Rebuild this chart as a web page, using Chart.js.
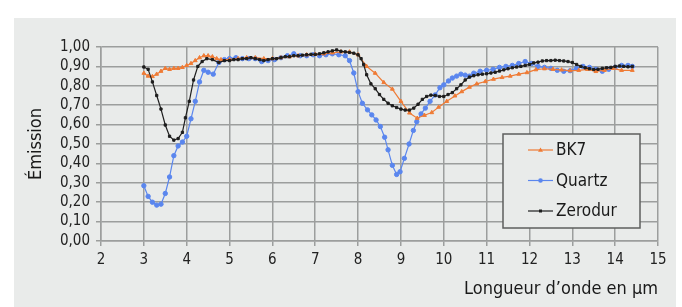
<!DOCTYPE html>
<html>
<head>
<meta charset="utf-8">
<script src="https://cdn.jsdelivr.net/npm/chart.js@4.4.1/dist/chart.umd.min.js"></script>
<style>
  html, body { margin: 0; padding: 0; background: #ffffff; }
  #panel { position: absolute; left: 14px; top: 18px; width: 662px; height: 289px; background: #e9ebea; }
  canvas { display: block; }
</style>
</head>
<body>
<div id="panel"><canvas id="chart" width="662" height="289"></canvas></div>
<script>
// values
const seriesNames = ["BK7", "Quartz", "Zerodur"];

const bk7X = [3.0,3.1,3.2,3.3,3.4,3.5,3.6,3.7,3.8,3.9,4.0,4.1,4.2,4.3,4.4,4.5,4.6,4.7,4.8,5.0,5.2,5.4,5.6,5.8,6.0,6.2,6.4,6.6,6.8,7.0,7.2,7.4,7.6,7.8,8.0,8.2,8.4,8.6,8.8,9.0,9.2,9.38,9.55,9.72,9.88,10.07,10.26,10.42,10.6,10.77,10.97,11.16,11.36,11.55,11.75,11.94,12.15,12.35,12.55,12.75,12.95,13.15,13.35,13.55,13.75,13.95,14.15,14.4];
const bk7Y = [0.865,0.85,0.848,0.86,0.875,0.89,0.885,0.89,0.89,0.895,0.905,0.915,0.93,0.945,0.955,0.955,0.95,0.94,0.935,0.935,0.94,0.945,0.945,0.94,0.94,0.945,0.95,0.955,0.96,0.962,0.965,0.97,0.975,0.975,0.96,0.90,0.865,0.817,0.783,0.72,0.66,0.633,0.648,0.662,0.69,0.72,0.748,0.77,0.793,0.81,0.822,0.834,0.843,0.85,0.86,0.868,0.883,0.888,0.885,0.882,0.878,0.88,0.885,0.874,0.88,0.89,0.88,0.88];

const quartzX = [3.0,3.1,3.2,3.3,3.4,3.5,3.6,3.7,3.8,3.9,4.0,4.1,4.2,4.3,4.4,4.5,4.62,4.75,4.88,5.0,5.15,5.3,5.45,5.6,5.75,5.9,6.05,6.2,6.35,6.5,6.65,6.8,6.95,7.1,7.25,7.4,7.55,7.7,7.8,7.9,8.0,8.1,8.22,8.32,8.42,8.52,8.62,8.7,8.8,8.9,8.98,9.08,9.19,9.29,9.37,9.47,9.57,9.68,9.8,9.91,10.0,10.11,10.2,10.3,10.4,10.5,10.6,10.7,10.85,11.0,11.15,11.3,11.45,11.6,11.75,11.9,12.05,12.2,12.35,12.5,12.65,12.8,12.95,13.1,13.25,13.4,13.55,13.7,13.85,14.0,14.15,14.3,14.4];
const quartzY = [0.285,0.23,0.20,0.185,0.19,0.245,0.33,0.44,0.49,0.51,0.54,0.63,0.72,0.82,0.88,0.87,0.86,0.92,0.935,0.94,0.945,0.94,0.94,0.94,0.925,0.93,0.935,0.945,0.955,0.965,0.955,0.955,0.96,0.955,0.96,0.965,0.96,0.955,0.93,0.866,0.77,0.71,0.676,0.65,0.624,0.59,0.535,0.47,0.39,0.343,0.357,0.426,0.50,0.57,0.615,0.655,0.685,0.72,0.753,0.79,0.805,0.825,0.84,0.85,0.86,0.855,0.85,0.865,0.875,0.88,0.885,0.895,0.90,0.905,0.915,0.925,0.915,0.90,0.895,0.89,0.88,0.875,0.878,0.89,0.90,0.895,0.885,0.875,0.885,0.895,0.905,0.905,0.90];

const zeroX = [3.0,3.1,3.2,3.3,3.4,3.5,3.6,3.7,3.8,3.9,3.97,4.06,4.16,4.26,4.36,4.47,4.6,4.75,4.88,5.0,5.1,5.2,5.3,5.4,5.5,5.6,5.7,5.8,5.9,6.0,6.1,6.2,6.3,6.4,6.5,6.6,6.7,6.8,6.9,7.0,7.1,7.2,7.3,7.4,7.5,7.6,7.7,7.8,7.9,8.0,8.07,8.13,8.2,8.3,8.4,8.5,8.6,8.7,8.8,8.9,9.0,9.1,9.2,9.3,9.4,9.5,9.6,9.7,9.8,9.9,10.0,10.1,10.2,10.3,10.4,10.5,10.6,10.7,10.8,10.9,11.0,11.1,11.2,11.3,11.4,11.5,11.6,11.7,11.8,11.9,12.0,12.1,12.2,12.3,12.4,12.5,12.6,12.7,12.8,12.9,13.0,13.1,13.2,13.3,13.4,13.5,13.6,13.7,13.8,13.9,14.0,14.1,14.2,14.3,14.4];
const zeroY = [0.897,0.885,0.82,0.75,0.68,0.598,0.54,0.52,0.528,0.56,0.635,0.72,0.83,0.90,0.925,0.94,0.935,0.92,0.93,0.93,0.935,0.935,0.94,0.94,0.945,0.94,0.935,0.93,0.935,0.94,0.94,0.945,0.95,0.95,0.955,0.955,0.958,0.96,0.962,0.962,0.965,0.97,0.975,0.98,0.985,0.978,0.975,0.972,0.968,0.96,0.94,0.91,0.857,0.81,0.785,0.755,0.73,0.71,0.697,0.688,0.68,0.675,0.675,0.685,0.705,0.73,0.745,0.752,0.75,0.745,0.745,0.755,0.765,0.785,0.805,0.83,0.845,0.852,0.857,0.86,0.862,0.866,0.87,0.876,0.882,0.888,0.893,0.897,0.90,0.905,0.91,0.918,0.922,0.928,0.93,0.93,0.932,0.93,0.928,0.925,0.92,0.91,0.90,0.893,0.888,0.884,0.885,0.89,0.893,0.895,0.90,0.902,0.90,0.898,0.90];

const colors = ["#ef7b35", "#5a86ee", "#1e1e1e"];
const markers = ["triangle", "circle", "rect"];
const markerSizes = [2.2, 2.2, 1.6];

const FONT = "'Liberation Sans Narrow', 'Arial Narrow', 'DejaVu Sans Condensed', 'Liberation Sans', Arial, sans-serif";
const gridColor = "#9c9e9d";

function toPoints(xs, ys) {
  return xs.map((x, i) => ({ x: x, y: ys[i] }));
}

const allX = [bk7X, quartzX, zeroX];
const allY = [bk7Y, quartzY, zeroY];

const datasets = seriesNames.map((name, i) => ({
  label: name,
  data: toPoints(allX[i], allY[i]),
  showLine: true,
  borderColor: colors[i],
  backgroundColor: colors[i],
  borderWidth: 1.2,
  pointStyle: markers[i],
  pointRadius: markerSizes[i],
  pointBorderWidth: 1,
  tension: 0
}));
// Zerodur on top, then BK7, Quartz underneath
datasets[0].order = 2;
datasets[1].order = 3;
datasets[2].order = 1;

// legend box drawn inside the plot, like the original
const boxLegend = {
  id: "boxLegend",
  afterDraw(chart) {
    const ctx = chart.ctx;
    const bx = 489, by = 116, bw = 137, bh = 94;
    ctx.save();
    ctx.fillStyle = "#e9ebea";
    ctx.fillRect(bx, by, bw, bh);
    ctx.strokeStyle = "#5d5f5e";
    ctx.lineWidth = 1.5;
    ctx.strokeRect(bx, by, bw, bh);
    ctx.font = "17px " + FONT;
    ctx.textBaseline = "middle";
    seriesNames.forEach((name, i) => {
      const y = 132 + i * 30.5;
      ctx.strokeStyle = colors[i];
      ctx.lineWidth = 1.2;
      ctx.beginPath();
      ctx.moveTo(514, y);
      ctx.lineTo(539, y);
      ctx.stroke();
      ctx.fillStyle = colors[i];
      ctx.beginPath();
      if (i === 0) {
        ctx.moveTo(526.5, y - 2.5); ctx.lineTo(529, y + 1.8); ctx.lineTo(524, y + 1.8); ctx.closePath();
      } else if (i === 1) {
        ctx.arc(526.5, y, 2.3, 0, Math.PI * 2);
      } else {
        ctx.rect(525, y - 1.5, 3, 3);
      }
      ctx.fill();
      ctx.fillStyle = "#1a1a1a";
      ctx.fillText(name, 542, y + 1);
    });
    ctx.restore();
  }
};

new Chart(document.getElementById("chart"), {
  type: "scatter",
  data: { datasets: datasets },
  options: {
    responsive: false,
    animation: false,
    layout: { padding: { left: 0, right: 18, top: 29, bottom: 0 } },
    plugins: {
      legend: { display: false },
      tooltip: { enabled: false }
    },
    scales: {
      x: {
        type: "linear",
        min: 2,
        max: 15,
        ticks: {
          stepSize: 1,
          autoSkip: false,
          color: "#222",
          font: { family: FONT, size: 15 },
          padding: 5
        },
        grid: { color: gridColor, lineWidth: 1.5, tickLength: 5 },
        border: { color: gridColor, width: 1.5 },
        title: {
          display: true,
          text: "Longueur d\u2019onde en \u00b5m",
          align: "end",
          color: "#1a1a1a",
          font: { family: FONT, size: 18 },
          padding: { top: 0, bottom: 7 }
        },
        afterFit(scale) { scale.height = 66; }
      },
      y: {
        min: 0,
        max: 1,
        ticks: {
          stepSize: 0.1,
          autoSkip: false,
          color: "#222",
          font: { family: FONT, size: 15 },
          padding: 6,
          callback: (v) => v.toFixed(2).replace(".", ",")
        },
        grid: { color: gridColor, lineWidth: 1.5, tickLength: 5 },
        border: { color: gridColor, width: 1.5 },
        title: {
          display: true,
          text: "\u00c9mission",
          color: "#1a1a1a",
          font: { family: FONT, size: 18 },
          padding: { top: 12, bottom: 0 }
        },
        afterFit(scale) { scale.width = 87; }
      }
    }
  },
  plugins: [boxLegend]
});
</script>
</body>
</html>
